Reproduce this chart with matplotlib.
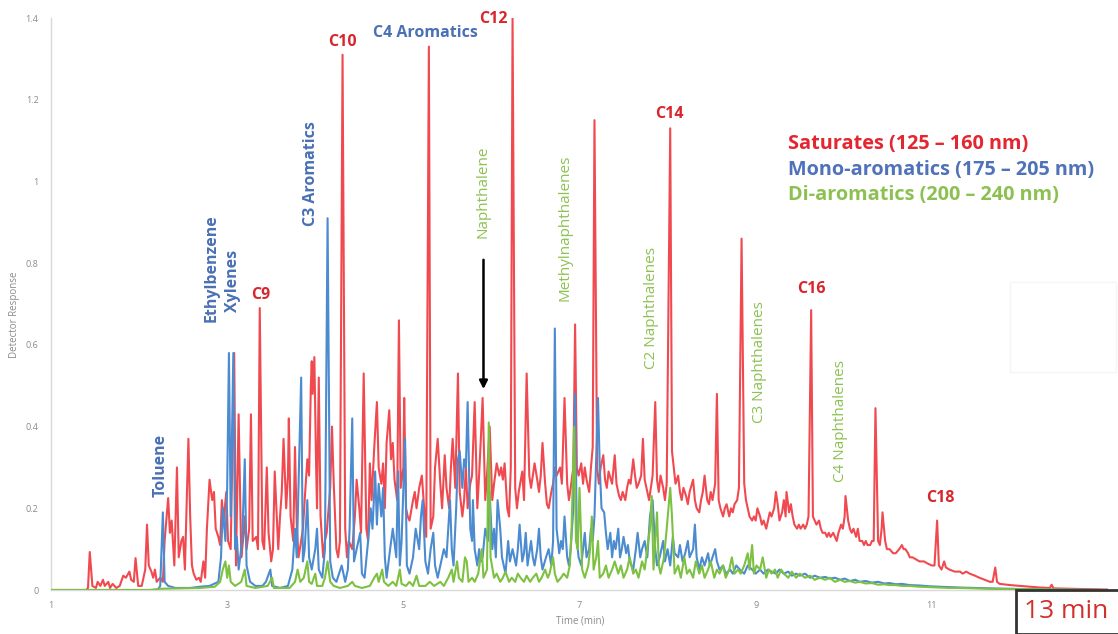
import matplotlib
matplotlib.use("Agg")
import matplotlib.pyplot as plt
from matplotlib.patches import Rectangle

plt.rcParams["font.family"] = ["Open Sans", "DejaVu Sans"]

# ---------------------------------------------------------------------------
# chromatogram traces (time in min, detector response)
# ---------------------------------------------------------------------------
SAT_T = [1.00, 1.40, 1.42, 1.44, 1.47, 1.51, 1.53, 1.56, 1.59, 1.61, 1.65, 1.67, 1.70, 1.74,
         1.78, 1.82, 1.85, 1.89, 1.91, 1.94, 1.96, 1.99, 2.03, 2.07, 2.09, 2.11, 2.14, 2.16,
         2.18, 2.20, 2.24, 2.27, 2.29, 2.33, 2.35, 2.37, 2.40, 2.43, 2.45, 2.48, 2.50, 2.52,
         2.56, 2.58, 2.60, 2.62, 2.65, 2.68, 2.70, 2.73, 2.75, 2.77, 2.80, 2.83, 2.85, 2.87,
         2.90, 2.92, 2.94, 2.96, 2.99, 3.01, 3.04, 3.08, 3.10, 3.13, 3.16, 3.18, 3.20, 3.22,
         3.25, 3.27, 3.29, 3.33, 3.35, 3.37, 3.40, 3.42, 3.45, 3.47, 3.50, 3.52, 3.54, 3.58,
         3.60, 3.62, 3.64, 3.67, 3.69, 3.70, 3.72, 3.75, 3.77, 3.79, 3.81, 3.84, 3.86, 3.88,
         3.91, 3.93, 3.95, 3.96, 3.97, 3.99, 4.01, 4.02, 4.04, 4.06, 4.09, 4.11, 4.13, 4.17,
         4.19, 4.21, 4.24, 4.26, 4.28, 4.31, 4.34, 4.36, 4.38, 4.42, 4.45, 4.47, 4.50, 4.52,
         4.55, 4.58, 4.60, 4.62, 4.64, 4.67, 4.70, 4.72, 4.75, 4.77, 4.79, 4.81, 4.84, 4.86,
         4.88, 4.90, 4.93, 4.95, 4.97, 5.00, 5.01, 5.03, 5.05, 5.07, 5.11, 5.13, 5.15, 5.18,
         5.21, 5.23, 5.26, 5.29, 5.31, 5.34, 5.36, 5.39, 5.42, 5.44, 5.47, 5.49, 5.52, 5.54,
         5.56, 5.59, 5.62, 5.64, 5.67, 5.69, 5.71, 5.73, 5.76, 5.78, 5.81, 5.84, 5.86, 5.88,
         5.90, 5.93, 5.95, 5.98, 6.01, 6.03, 6.06, 6.09, 6.11, 6.13, 6.15, 6.18, 6.20, 6.22,
         6.24, 6.27, 6.29, 6.31, 6.35, 6.37, 6.40, 6.43, 6.45, 6.47, 6.49, 6.52, 6.54, 6.56,
         6.58, 6.61, 6.63, 6.65, 6.68, 6.70, 6.72, 6.74, 6.78, 6.80, 6.83, 6.86, 6.88, 6.90,
         6.93, 6.95, 6.97, 6.99, 7.02, 7.04, 7.06, 7.08, 7.11, 7.13, 7.15, 7.17, 7.20, 7.22,
         7.24, 7.27, 7.29, 7.31, 7.33, 7.37, 7.40, 7.42, 7.45, 7.47, 7.49, 7.52, 7.54, 7.56,
         7.58, 7.61, 7.63, 7.65, 7.67, 7.70, 7.72, 7.74, 7.77, 7.79, 7.81, 7.83, 7.86, 7.88,
         7.90, 7.92, 7.95, 7.97, 7.99, 8.03, 8.05, 8.07, 8.09, 8.12, 8.14, 8.16, 8.18, 8.21,
         8.23, 8.25, 8.29, 8.31, 8.33, 8.36, 8.38, 8.40, 8.42, 8.45, 8.47, 8.49, 8.51, 8.54,
         8.56, 8.58, 8.60, 8.63, 8.65, 8.67, 8.70, 8.72, 8.74, 8.76, 8.79, 8.81, 8.84, 8.87,
         8.89, 8.91, 8.93, 8.96, 8.98, 9.00, 9.02, 9.05, 9.07, 9.09, 9.12, 9.14, 9.16, 9.18,
         9.21, 9.23, 9.25, 9.27, 9.30, 9.32, 9.34, 9.35, 9.38, 9.40, 9.42, 9.44, 9.47, 9.49,
         9.51, 9.54, 9.56, 9.58, 9.60, 9.63, 9.65, 9.67, 9.69, 9.72, 9.74, 9.76, 9.79, 9.81,
         9.83, 9.85, 9.88, 9.90, 9.92, 9.94, 9.97, 9.99, 10.01, 10.02, 10.05, 10.07, 10.09,
         10.11, 10.14, 10.16, 10.18, 10.21, 10.23, 10.25, 10.27, 10.30, 10.32, 10.34, 10.36,
         10.39, 10.41, 10.43, 10.44, 10.47, 10.49, 10.52, 10.56, 10.59, 10.63, 10.66, 10.68,
         10.70, 10.73, 10.75, 10.78, 10.82, 10.86, 10.91, 10.95, 11.00, 11.03, 11.06, 11.08,
         11.11, 11.14, 11.16, 11.20, 11.26, 11.32, 11.35, 11.39, 11.43, 11.49, 11.54, 11.60,
         11.66, 11.69, 11.72, 11.74, 11.77, 11.89, 12.00, 12.11, 12.23, 12.34, 12.36, 12.38,
         12.57, 12.79, 13.00]
SAT_V = [0, 0, 0.005, 0.093, 0.01, 0.005, 0.02, 0.01, 0.025, 0.01, 0.02, 0.005, 0.015, 0.005,
         0.01, 0.035, 0.03, 0.045, 0.025, 0.02, 0.078, 0.01, 0.01, 0.05, 0.16, 0.06, 0.045, 0.03,
         0.05, 0.02, 0.03, 0.02, 0.12, 0.225, 0.14, 0.17, 0.06, 0.30, 0.08, 0.12, 0.13, 0.05,
         0.37, 0.18, 0.06, 0.04, 0.025, 0.03, 0.02, 0.07, 0.03, 0.15, 0.27, 0.22, 0.24, 0.15,
         0.13, 0.11, 0.22, 0.17, 0.24, 0.12, 0.10, 0.58, 0.06, 0.43, 0.08, 0.12, 0.18, 0.10,
         0.15, 0.43, 0.12, 0.13, 0.10, 0.69, 0.12, 0.10, 0.30, 0.14, 0.07, 0.10, 0.29, 0.10,
         0.18, 0.24, 0.37, 0.20, 0.28, 0.42, 0.18, 0.12, 0.35, 0.16, 0.08, 0.12, 0.15, 0.22,
         0.32, 0.28, 0.50, 0.56, 0.48, 0.57, 0.30, 0.20, 0.52, 0.18, 0.08, 0.12, 0.14, 0.25,
         0.40, 0.26, 0.10, 0.08, 0.12, 1.31, 0.15, 0.08, 0.12, 0.10, 0.18, 0.27, 0.20, 0.14,
         0.53, 0.15, 0.12, 0.31, 0.22, 0.35, 0.46, 0.30, 0.26, 0.31, 0.20, 0.36, 0.44, 0.32,
         0.36, 0.27, 0.22, 0.66, 0.25, 0.30, 0.47, 0.20, 0.18, 0.17, 0.22, 0.24, 0.20, 0.25,
         0.28, 0.22, 0.13, 1.33, 0.15, 0.18, 0.30, 0.37, 0.26, 0.20, 0.33, 0.25, 0.20, 0.30,
         0.37, 0.25, 0.53, 0.24, 0.18, 0.22, 0.30, 0.20, 0.26, 0.28, 0.46, 0.20, 0.28, 0.37,
         0.47, 0.22, 0.28, 0.40, 0.22, 0.26, 0.31, 0.28, 0.30, 0.27, 0.31, 0.20, 0.18, 0.30,
         1.40, 0.25, 0.20, 0.24, 0.29, 0.22, 0.53, 0.28, 0.25, 0.28, 0.31, 0.27, 0.24, 0.28,
         0.36, 0.26, 0.21, 0.20, 0.24, 0.26, 0.30, 0.28, 0.30, 0.26, 0.47, 0.26, 0.22, 0.25,
         0.30, 0.65, 0.30, 0.28, 0.31, 0.26, 0.30, 0.27, 0.24, 0.30, 0.35, 1.15, 0.30, 0.26,
         0.30, 0.33, 0.27, 0.25, 0.29, 0.26, 0.33, 0.26, 0.23, 0.22, 0.24, 0.22, 0.25, 0.27,
         0.26, 0.32, 0.28, 0.25, 0.26, 0.28, 0.37, 0.27, 0.24, 0.22, 0.25, 0.28, 0.46, 0.27,
         0.24, 0.28, 0.25, 0.22, 0.26, 1.13, 0.34, 0.30, 0.26, 0.28, 0.24, 0.22, 0.25, 0.23,
         0.21, 0.24, 0.27, 0.22, 0.20, 0.19, 0.22, 0.24, 0.28, 0.22, 0.21, 0.24, 0.22, 0.26,
         0.48, 0.22, 0.20, 0.18, 0.20, 0.21, 0.18, 0.20, 0.19, 0.21, 0.22, 0.25, 0.86, 0.26,
         0.22, 0.20, 0.18, 0.17, 0.18, 0.17, 0.20, 0.18, 0.16, 0.17, 0.15, 0.17, 0.19, 0.18,
         0.20, 0.24, 0.21, 0.17, 0.19, 0.22, 0.18, 0.24, 0.19, 0.21, 0.18, 0.16, 0.15, 0.16,
         0.15, 0.16, 0.15, 0.16, 0.18, 0.685, 0.18, 0.17, 0.16, 0.17, 0.15, 0.14, 0.14, 0.13,
         0.14, 0.13, 0.14, 0.13, 0.12, 0.14, 0.16, 0.15, 0.18, 0.23, 0.17, 0.15, 0.14,
         0.15, 0.13, 0.15, 0.12, 0.12, 0.11, 0.12, 0.11, 0.11, 0.12, 0.12, 0.445,
         0.12, 0.11, 0.15, 0.19, 0.12, 0.10, 0.10, 0.09, 0.09, 0.10, 0.11, 0.10,
         0.10, 0.09, 0.08, 0.08, 0.075, 0.07, 0.07, 0.065, 0.06, 0.06, 0.17, 0.06,
         0.05, 0.07, 0.055, 0.05, 0.045, 0.045, 0.04, 0.045, 0.04, 0.035, 0.03, 0.025,
         0.02, 0.02, 0.055, 0.02, 0.015, 0.012, 0.01, 0.008, 0.006, 0.005, 0.013, 0.004,
         0.003, 0.002, 0.001]

MONO_T = [1.00, 2.21, 2.24, 2.27, 2.29, 2.33, 2.41, 2.58, 2.69, 2.80, 2.90, 2.93, 2.95, 2.98,
          3.00, 3.02, 3.04, 3.07, 3.09, 3.11, 3.13, 3.17, 3.20, 3.22, 3.26, 3.32, 3.40, 3.44,
          3.49, 3.51, 3.60, 3.69, 3.74, 3.77, 3.79, 3.84, 3.86, 3.88, 3.91, 3.93, 3.96, 4.00,
          4.02, 4.04, 4.08, 4.11, 4.14, 4.17, 4.20, 4.24, 4.27, 4.30, 4.34, 4.37, 4.39, 4.42,
          4.44, 4.47, 4.51, 4.53, 4.56, 4.60, 4.63, 4.65, 4.68, 4.70, 4.72, 4.75, 4.77, 4.79,
          4.81, 4.85, 4.88, 4.92, 4.94, 4.96, 4.98, 5.02, 5.04, 5.07, 5.11, 5.14, 5.18, 5.20,
          5.22, 5.25, 5.28, 5.31, 5.34, 5.36, 5.39, 5.43, 5.46, 5.49, 5.53, 5.55, 5.57, 5.60,
          5.62, 5.64, 5.67, 5.69, 5.71, 5.73, 5.76, 5.78, 5.79, 5.81, 5.84, 5.86, 5.88, 5.90,
          5.93, 5.96, 5.98, 6.01, 6.03, 6.05, 6.07, 6.10, 6.12, 6.14, 6.16, 6.19, 6.21, 6.24,
          6.28, 6.30, 6.32, 6.35, 6.37, 6.39, 6.41, 6.45, 6.47, 6.49, 6.52, 6.54, 6.56, 6.58,
          6.62, 6.65, 6.68, 6.70, 6.72, 6.74, 6.77, 6.79, 6.81, 6.83, 6.86, 6.88, 6.90, 6.93,
          6.95, 6.97, 6.99, 7.02, 7.04, 7.06, 7.08, 7.11, 7.13, 7.15, 7.17, 7.21, 7.23, 7.25,
          7.28, 7.30, 7.32, 7.35, 7.37, 7.39, 7.41, 7.44, 7.46, 7.48, 7.50, 7.53, 7.55, 7.57,
          7.61, 7.64, 7.66, 7.69, 7.71, 7.74, 7.77, 7.80, 7.83, 7.86, 7.88, 7.91, 7.95, 7.97,
          8.00, 8.03, 8.06, 8.08, 8.12, 8.14, 8.17, 8.20, 8.23, 8.25, 8.29, 8.31, 8.33, 8.36,
          8.39, 8.42, 8.46, 8.48, 8.51, 8.54, 8.56, 8.59, 8.63, 8.66, 8.71, 8.74, 8.78, 8.82,
          8.87, 8.91, 8.96, 9.00, 9.05, 9.09, 9.14, 9.18, 9.23, 9.27, 9.32, 9.37, 9.41, 9.46,
          9.50, 9.56, 9.62, 9.67, 9.73, 9.79, 9.84, 9.90, 9.96, 10.01, 10.07, 10.13, 10.18,
          10.25, 10.32, 10.39, 10.46, 10.52, 10.59, 10.66, 10.75, 10.86, 10.98, 11.09, 11.20,
          11.32, 11.49, 11.66, 11.89, 12.11, 12.45, 13.00]
MONO_V = [0, 0.0, 0.01, 0.19, 0.02, 0.01, 0.005, 0.005, 0.008, 0.01, 0.02, 0.08, 0.20, 0.12,
          0.25, 0.58, 0.18, 0.58, 0.10, 0.13, 0.05, 0.12, 0.32, 0.06, 0.02, 0.01, 0.01, 0.02,
          0.05, 0.01, 0.005, 0.01, 0.05, 0.15, 0.08, 0.52, 0.07, 0.10, 0.22, 0.08, 0.05, 0.10,
          0.15, 0.05, 0.03, 0.10, 0.91, 0.07, 0.03, 0.02, 0.04, 0.06, 0.02, 0.05, 0.15, 0.42,
          0.07, 0.10, 0.14, 0.04, 0.03, 0.12, 0.20, 0.15, 0.29, 0.16, 0.26, 0.18, 0.25, 0.08,
          0.03, 0.10, 0.15, 0.08, 0.29, 0.06, 0.12, 0.37, 0.06, 0.04, 0.08, 0.15, 0.10, 0.18,
          0.22, 0.07, 0.04, 0.10, 0.14, 0.06, 0.03, 0.07, 0.10, 0.08, 0.22, 0.10, 0.06, 0.20,
          0.32, 0.34, 0.25, 0.32, 0.30, 0.46, 0.15, 0.12, 0.22, 0.10, 0.06, 0.10, 0.07, 0.08,
          0.15, 0.12, 0.24, 0.10, 0.15, 0.08, 0.22, 0.15, 0.08, 0.06, 0.04, 0.12, 0.07, 0.10,
          0.06, 0.10, 0.16, 0.07, 0.09, 0.14, 0.06, 0.12, 0.08, 0.06, 0.10, 0.15, 0.08, 0.05,
          0.08, 0.10, 0.06, 0.12, 0.64, 0.15, 0.09, 0.12, 0.10, 0.18, 0.08, 0.06, 0.10, 0.20,
          0.48, 0.12, 0.08, 0.06, 0.10, 0.14, 0.08, 0.10, 0.15, 0.12, 0.18, 0.47, 0.30, 0.20,
          0.19, 0.14, 0.10, 0.14, 0.08, 0.12, 0.10, 0.15, 0.08, 0.10, 0.13, 0.09, 0.11, 0.07,
          0.05, 0.10, 0.14, 0.08, 0.10, 0.12, 0.08, 0.18, 0.22, 0.10, 0.06, 0.08, 0.12, 0.07,
          0.10, 0.06, 0.13, 0.09, 0.08, 0.11, 0.07, 0.09, 0.12, 0.08, 0.10, 0.16, 0.08, 0.05,
          0.08, 0.06, 0.09, 0.06, 0.08, 0.10, 0.07, 0.05, 0.06, 0.04, 0.05, 0.04, 0.06, 0.05,
          0.04, 0.06, 0.05, 0.04, 0.05, 0.04, 0.05, 0.045, 0.04, 0.05, 0.04, 0.045, 0.035, 0.04,
          0.035, 0.04, 0.03, 0.035, 0.03, 0.032, 0.028, 0.03, 0.025, 0.028, 0.022, 0.025, 0.02,
          0.022, 0.018, 0.02, 0.016, 0.017, 0.014, 0.015, 0.012, 0.011, 0.009, 0.008, 0.007,
          0.006, 0.005, 0.004, 0.003, 0.002, 0.001, 0.0]

DI_T = [1.00, 2.12, 2.24, 2.69, 2.86, 2.92, 2.95, 2.98, 3.00, 3.02, 3.04, 3.09, 3.16, 3.20,
        3.22, 3.32, 3.46, 3.51, 3.53, 3.71, 3.77, 3.80, 3.83, 3.87, 3.91, 3.93, 3.96, 4.00,
        4.02, 4.08, 4.11, 4.14, 4.17, 4.21, 4.28, 4.37, 4.42, 4.45, 4.53, 4.62, 4.67, 4.70,
        4.72, 4.76, 4.78, 4.83, 4.88, 4.92, 4.96, 4.98, 5.03, 5.07, 5.11, 5.15, 5.18, 5.25,
        5.30, 5.35, 5.42, 5.46, 5.51, 5.55, 5.57, 5.61, 5.63, 5.67, 5.70, 5.72, 5.74, 5.78,
        5.81, 5.85, 5.89, 5.91, 5.95, 5.97, 5.99, 6.03, 6.06, 6.10, 6.13, 6.16, 6.20, 6.23,
        6.27, 6.30, 6.33, 6.37, 6.40, 6.44, 6.47, 6.51, 6.54, 6.57, 6.61, 6.64, 6.66, 6.70,
        6.72, 6.75, 6.79, 6.82, 6.86, 6.89, 6.91, 6.94, 6.96, 6.98, 7.00, 7.03, 7.06, 7.10,
        7.12, 7.14, 7.16, 7.19, 7.21, 7.23, 7.27, 7.30, 7.33, 7.37, 7.40, 7.44, 7.47, 7.50,
        7.54, 7.57, 7.61, 7.64, 7.67, 7.71, 7.74, 7.78, 7.80, 7.82, 7.84, 7.88, 7.90, 7.92,
        7.96, 7.99, 8.03, 8.05, 8.08, 8.12, 8.15, 8.19, 8.22, 8.25, 8.29, 8.32, 8.36, 8.39,
        8.42, 8.46, 8.49, 8.53, 8.56, 8.59, 8.63, 8.66, 8.70, 8.73, 8.76, 8.80, 8.83, 8.87,
        8.91, 8.93, 8.96, 8.98, 9.01, 9.05, 9.08, 9.12, 9.15, 9.18, 9.22, 9.25, 9.29, 9.32,
        9.37, 9.41, 9.46, 9.50, 9.56, 9.62, 9.67, 9.73, 9.79, 9.84, 9.90, 9.96, 10.01, 10.07,
        10.13, 10.18, 10.25, 10.32, 10.39, 10.46, 10.52, 10.59, 10.66, 10.75, 10.86, 10.98,
        11.09, 11.20, 11.32, 11.49, 11.66, 11.89, 12.11, 12.45, 13.00]
DI_V = [0, 0, 0.003, 0.005, 0.008, 0.02, 0.05, 0.07, 0.03, 0.06, 0.02, 0.01, 0.02, 0.05,
        0.01, 0.005, 0.01, 0.03, 0.005, 0.005, 0.02, 0.05, 0.02, 0.03, 0.07, 0.02, 0.015, 0.04,
        0.01, 0.01, 0.03, 0.07, 0.02, 0.01, 0.005, 0.01, 0.02, 0.01, 0.005, 0.01, 0.03, 0.04,
        0.02, 0.05, 0.02, 0.01, 0.02, 0.01, 0.05, 0.015, 0.01, 0.02, 0.01, 0.035, 0.01, 0.01,
        0.02, 0.01, 0.02, 0.01, 0.03, 0.05, 0.02, 0.07, 0.03, 0.02, 0.08, 0.07, 0.02, 0.03,
        0.02, 0.04, 0.10, 0.03, 0.05, 0.41, 0.08, 0.03, 0.04, 0.02, 0.03, 0.045, 0.02, 0.03,
        0.02, 0.04, 0.03, 0.02, 0.035, 0.02, 0.03, 0.04, 0.02, 0.03, 0.05, 0.03, 0.04, 0.08,
        0.04, 0.02, 0.03, 0.04, 0.03, 0.06, 0.15, 0.40, 0.12, 0.10, 0.25, 0.05, 0.03, 0.06,
        0.10, 0.18, 0.05, 0.08, 0.12, 0.03, 0.04, 0.06, 0.03, 0.05, 0.07, 0.04, 0.06, 0.03,
        0.05, 0.08, 0.04, 0.05, 0.03, 0.07, 0.05, 0.12, 0.15, 0.23, 0.05, 0.19, 0.06, 0.04,
        0.08, 0.15, 0.25, 0.18, 0.04, 0.06, 0.03, 0.08, 0.04, 0.05, 0.03, 0.07, 0.04, 0.06,
        0.03, 0.05, 0.07, 0.03, 0.05, 0.04, 0.06, 0.03, 0.05, 0.08, 0.04, 0.05, 0.04, 0.06,
        0.09, 0.05, 0.11, 0.04, 0.06, 0.05, 0.08, 0.03, 0.05, 0.04, 0.05, 0.03, 0.05, 0.04,
        0.03, 0.045, 0.03, 0.04, 0.03, 0.035, 0.025, 0.03, 0.025, 0.03, 0.02, 0.025, 0.02, 0.022,
        0.018, 0.02, 0.016, 0.017, 0.013, 0.014, 0.012, 0.012, 0.01, 0.01, 0.008, 0.007,
        0.006, 0.005, 0.005, 0.004, 0.003, 0.002, 0.002, 0.001, 0.0]

X_TICKS = [1, 3, 5, 7, 9, 11]
Y_TICKS = [0, 0.2, 0.4, 0.6, 0.8, 1.0, 1.2, 1.4]
Y_TICK_LABELS = ["0", "0.2", "0.4", "0.6", "0.8", "1", "1.2", "1.4"]

RED_LINE, BLUE_LINE, GREEN_LINE = "#f04a50", "#4c8bd0", "#7dc142"
RED_TXT, BLUE_TXT, GREEN_TXT = "#d8262e", "#4a70b5", "#8cc152"

# =============================================================================
fig = plt.figure(figsize=(11.18, 6.34), dpi=100)
ax = fig.add_axes([51 / 1118, 44 / 634, 1057 / 1118, 572 / 634])

ax.plot(SAT_T, SAT_V, color=RED_LINE, lw=1.5, zorder=2)
ax.plot(MONO_T, MONO_V, color=BLUE_LINE, lw=1.5, zorder=3)
ax.plot(DI_T, DI_V, color=GREEN_LINE, lw=1.5, zorder=4)

ax.set_xlim(1, 13)
ax.set_ylim(0, 1.4)
ax.set_xticks(X_TICKS)
ax.set_xticklabels([str(x) for x in X_TICKS])
ax.set_yticks(Y_TICKS)
ax.set_yticklabels(Y_TICK_LABELS)
ax.tick_params(length=0, labelsize=6.5, labelcolor="#8a8a8a")
ax.tick_params(axis="y", pad=9)
ax.tick_params(axis="x", pad=8)
for side in ["top", "right"]:
    ax.spines[side].set_visible(False)
for side in ["left", "bottom"]:
    ax.spines[side].set_color("#d9d9d9")
    ax.spines[side].set_linewidth(1.0)

fig.text(15 / 1118, 1 - 315 / 634, "Detector Response", rotation=90,
         ha="center", va="center", fontsize=7, color="#8a8a8a")
fig.text(580 / 1118, 1 - 621 / 634, "Time (min)", ha="center", va="center",
         fontsize=7, color="#8a8a8a")

# peak labels
bold = dict(fontsize=11.5, fontweight="bold", ha="center", va="center")
ax.text(4.31, 1.341, "C10", color=RED_TXT, **bold)
ax.text(6.02, 1.397, "C12", color=RED_TXT, **bold)
ax.text(8.02, 1.165, "C14", color=RED_TXT, **bold)
ax.text(3.38, 0.722, "C9", color=RED_TXT, **bold)
ax.text(9.63, 0.737, "C16", color=RED_TXT, **bold)
ax.text(11.10, 0.225, "C18", color=RED_TXT, **bold)
ax.text(5.25, 1.363, "C4 Aromatics", color=BLUE_TXT, **bold)

ax.text(2.24, 0.306, "Toluene", color=BLUE_TXT, rotation=90, **bold)
ax.text(2.82, 0.788, "Ethylbenzene", color=BLUE_TXT, rotation=90, **bold)
ax.text(3.07, 0.756, "Xylenes", color=BLUE_TXT, rotation=90, **bold)
ax.text(3.95, 1.02, "C3 Aromatics", color=BLUE_TXT, rotation=90, **bold)

thin = dict(fontsize=11, ha="center", va="center", rotation=90, color=GREEN_TXT)
ax.text(5.90, 0.974, "Naphthalene", **thin)
ax.text(6.83, 0.886, "Methylnaphthalenes", **thin)
ax.text(7.82, 0.69, "C2 Naphthalenes", **thin)
ax.text(9.04, 0.558, "C3 Naphthalenes", **thin)
ax.text(9.96, 0.414, "C4 Naphthalenes", **thin)

ax.annotate("", xy=(5.91, 0.485), xytext=(5.91, 0.815),
            arrowprops=dict(arrowstyle="-|>", color="black", lw=1.8, mutation_scale=12))

# legend as coloured text
leg = dict(fontsize=14.3, fontweight="bold", ha="left", va="center")
fig.text(788 / 1118, 1 - 144 / 634, "Saturates (125 – 160 nm)", color="#e32630", **leg)
fig.text(788 / 1118, 1 - 170 / 634, "Mono-aromatics (175 – 205 nm)", color="#4f72b8", **leg)
fig.text(788 / 1118, 1 - 195 / 634, "Di-aromatics (200 – 240 nm)", color=GREEN_TXT, **leg)

# faint empty box and time stamp box
fig.patches.append(Rectangle((1010 / 1118, 1 - 372 / 634), 106 / 1118, 90 / 634,
                             transform=fig.transFigure, fill=False,
                             edgecolor="#f5f5f5", lw=1.0))
fig.patches.append(Rectangle((1016 / 1118, 1 - 634 / 634), 110 / 1118, 44 / 634,
                             transform=fig.transFigure, facecolor="white",
                             edgecolor="#333333", lw=2.0, zorder=10))
fig.text(1066 / 1118, 1 - 612 / 634, "13 min", ha="center", va="center",
         fontsize=19, color="#d0312d", zorder=11)

fig.savefig("out.png", dpi=100)
